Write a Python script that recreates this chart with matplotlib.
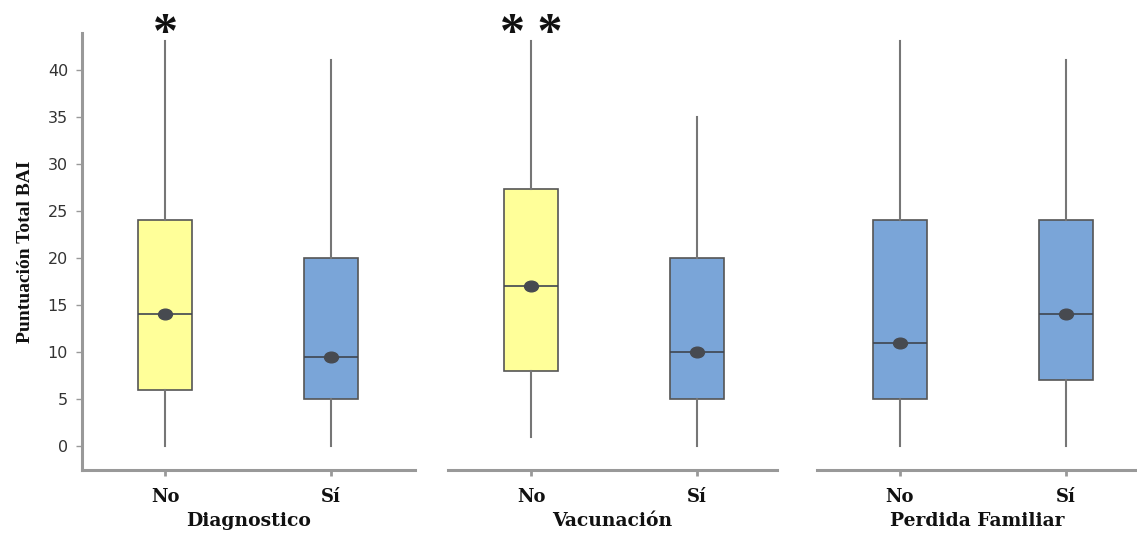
import matplotlib
matplotlib.use("Agg")
import matplotlib.pyplot as plt
from matplotlib.path import Path
from matplotlib.transforms import Affine2D
from matplotlib.markers import MarkerStyle

groups = ["Diagnostico", "Vacunación", "Perdida Familiar"]
categories = ["No", "Sí"]
# per group: [No, Sí]
whisker_low = [[0, 0], [1, 0], [0, 0]]
q1 = [[6, 5], [8, 5], [5, 7]]
medians = [[14, 9.5], [17, 10], [11, 14]]
q3 = [[24, 20], [27.3, 20], [24, 24]]
whisker_high = [[43, 41], [43, 35], [43, 41]]
significance = ["*", "* *", ""]
box_colors = [["#FFFF99", "#7AA5D8"], ["#FFFF99", "#7AA5D8"], ["#7AA5D8", "#7AA5D8"]]

W, H = 1137, 533
fig = plt.figure(figsize=(W / 100, H / 100), dpi=100)

panels_px = [(82, 415), (448, 777), (817, 1137)]
top_px, bot_px = 33, 470
ymin, ymax = -2.55, 43.9
unit_px = 166.0

ellipse = MarkerStyle(Path.unit_circle().transformed(Affine2D().scale(1.3, 1.0)))

serif_bold = dict(fontfamily="DejaVu Serif", fontweight="bold")

axes = []
for gi, (l, r) in enumerate(panels_px):
    ax = fig.add_axes([l / W, 1 - bot_px / H, (r - l) / W, (bot_px - top_px) / H])
    axes.append(ax)
    x0 = -0.5
    x1 = x0 + (r - l) / unit_px
    ax.set_xlim(x0, x1)
    ax.set_ylim(ymin, ymax)
    bxp_stats = []
    for ci, cat in enumerate(categories):
        bxp_stats.append(dict(med=medians[gi][ci], q1=q1[gi][ci], q3=q3[gi][ci],
                              whislo=whisker_low[gi][ci], whishi=whisker_high[gi][ci],
                              fliers=[], label=cat))
    bp = ax.bxp(bxp_stats, positions=[0, 1], widths=0.33, patch_artist=True,
                showcaps=False, showfliers=False,
                boxprops=dict(edgecolor="#555555", linewidth=1.2),
                whiskerprops=dict(color="#767676", linewidth=1.5),
                medianprops=dict(color="#3f4550", linewidth=1.2))
    for patch, c in zip(bp["boxes"], box_colors[gi]):
        patch.set_facecolor(c)
    ax.plot([0, 1], medians[gi], linestyle="none", marker=ellipse, markersize=10,
            color="#474a50", zorder=5)
    ax.set_xticks([0, 1])
    ax.set_xticklabels(categories, fontsize=13, **serif_bold)
    ax.tick_params(axis="x", length=4, width=2, color="#999999", pad=9,
                   labelcolor="#111111")
    ax.set_xlabel(groups[gi], fontsize=13.5, labelpad=4.5, color="#111111", **serif_bold)
    for s in ["top", "right"]:
        ax.spines[s].set_visible(False)
    ax.spines["bottom"].set_color("#999999")
    ax.spines["bottom"].set_linewidth(2.2)
    if gi == 0:
        ax.spines["left"].set_color("#999999")
        ax.spines["left"].set_linewidth(2.2)
        ax.set_yticks(range(0, 41, 5))
        ax.tick_params(axis="y", length=4, width=1, color="#999999", labelsize=11.5,
                       labelcolor="#333333", pad=6)
        for t in ax.get_yticklabels():
            t.set_fontfamily("DejaVu Sans")
        ax.set_ylabel("Puntuación Total BAI", fontfamily="Liberation Serif",
                      fontweight="bold", fontsize=14, labelpad=10, color="#111111")
    else:
        ax.spines["left"].set_visible(False)
        ax.set_yticks([])
    if significance[gi]:
        ax.text(0, 0.995, significance[gi], transform=ax.get_xaxis_transform(),
                ha="center", va="center", fontsize=36, fontweight="bold",
                fontfamily="Liberation Serif", color="#111111")

fig.savefig("out.png", dpi=100)
